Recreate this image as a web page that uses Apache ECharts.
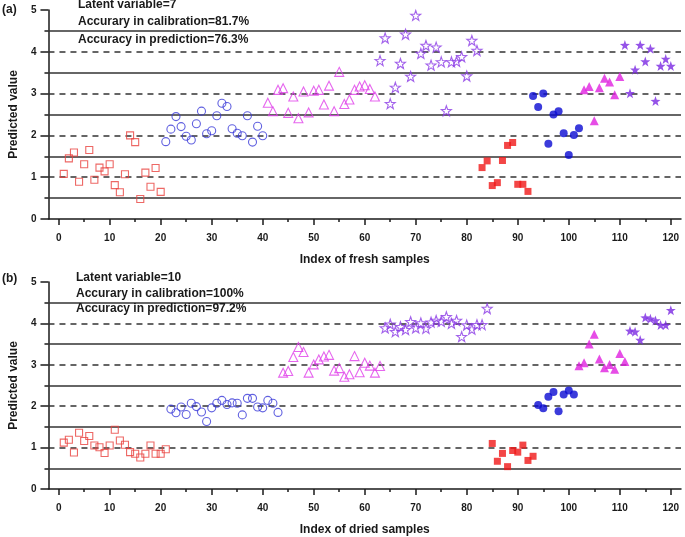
<!DOCTYPE html>
<html>
<head>
<meta charset="utf-8">
<script src="https://cdn.jsdelivr.net/npm/echarts@6/dist/echarts.min.js"></script>
<style>html,body{margin:0;padding:0;background:#fff;}#c{width:685px;height:537px;}</style>
</head>
<body>
<div id="c"></div>
<script>
// ---- Data: (a) fresh samples ----
const freshCalRedStart = 1;
const freshCalRed = [1.08,1.45,1.59,0.89,1.31,1.65,0.94,1.23,1.14,1.31,0.81,0.64,1.07,2.00,1.84,0.48,1.11,0.77,1.22,0.65];
const freshCalBlueStart = 21;
const freshCalBlue = [1.85,2.15,2.45,2.21,1.98,1.89,2.28,2.58,2.04,2.11,2.47,2.77,2.69,2.16,2.05,1.99,2.47,1.84,2.22,1.99];
const freshCalMagStart = 41;
const freshCalMag = [2.78,2.58,3.09,3.13,2.54,2.93,2.41,3.05,2.55,3.07,3.09,2.74,3.19,2.58,3.52,2.75,2.86,3.09,3.17,3.20,3.11,2.93];
const freshCalStarStart = 63;
const freshCalStar = [3.79,4.33,2.76,3.15,3.72,4.42,3.41,4.87,3.96,4.15,3.68,4.11,3.76,2.59,3.76,3.77,3.88,3.42,4.27,4.03];
const freshPredRedStart = 83;
const freshPredRed = [1.23,1.39,0.80,0.87,1.40,1.76,1.83,0.83,0.83,0.66];
const freshPredBlueStart = 93;
const freshPredBlue = [2.94,2.68,3.00,1.80,2.50,2.58,2.05,1.53,2.01,2.17];
const freshPredMagStart = 103;
const freshPredMag = [3.09,3.17,2.35,3.14,3.37,3.28,2.97,3.41];
const freshPredStarStart = 111;
const freshPredStar = [4.16,3.01,3.57,4.16,3.77,4.07,2.82,3.66,3.83,3.66];

// ---- Data: (b) dried samples ----
const driedCalRedStart = 1;
const driedCalRed = [1.12,1.19,0.88,1.36,1.16,1.28,1.05,1.01,0.87,1.05,1.43,1.17,1.07,0.89,0.85,0.76,0.85,1.05,0.85,0.85,0.96];
const driedCalBlueStart = 22;
const driedCalBlue = [1.93,1.84,1.98,1.80,2.07,1.99,1.86,1.63,1.96,2.07,2.14,2.04,2.08,2.07,1.79,2.19,2.19,1.98,1.96,2.14,2.07,1.85];
const driedCalMagStart = 44;
const driedCalMag = [2.81,2.85,3.19,3.43,3.31,2.81,3.01,3.13,3.20,3.24,2.86,2.92,2.71,2.77,3.21,2.82,3.05,2.98,2.81,2.97];
const driedCalStarStart = 64;
const driedCalStar = [3.89,3.98,3.80,3.92,3.85,4.04,3.89,4.01,3.88,4.03,4.07,4.05,4.16,4.00,4.07,3.68,3.96,3.86,3.97,3.97,4.36];
const driedPredRedStart = 85;
const driedPredRed = [1.10,0.67,0.86,0.54,0.93,0.89,1.06,0.69,0.79];
const driedPredBlueStart = 94;
const driedPredBlue = [2.03,1.95,2.23,2.34,1.88,2.28,2.38,2.28];
const driedPredMagStart = 102;
const driedPredMag = [2.98,3.05,3.50,3.74,3.14,2.93,3.01,2.89,3.27,3.08];
const driedPredStarStart = 112;
const driedPredStar = [3.82,3.80,3.60,4.14,4.11,4.07,3.96,3.96,4.32];

// ---- Axis ticks / labels ----
const xMajorTicks = [0,10,20,30,40,50,60,70,80,90,100,110,120];
const xMinorTicks = [5,15,25,35,45,55,65,75,85,95,105,115];
const solidLevels = [0.5,1.5,2.5,3.5,4.5];
const dashedLevels = [1,2,3,4];

const panelATexts = ['Latent variable=7','Accurary in calibration=81.7%','Accuracy in prediction=76.3%'];
const panelBTexts = ['Latent variable=10','Accurary in calibration=100%','Accuracy in prediction=97.2%'];

// ---- Styling ----
const FONT = 'Liberation Sans, Arial, sans-serif';
const AX = '#1a1a1a';
const STAR = 'path://M0,-10 L2.35,-3.24 L9.51,-3.09 L3.8,1.24 L5.88,8.09 L0,4 L-5.88,8.09 L-3.8,1.24 L-9.51,-3.09 L-2.35,-3.24 Z';

function pts(start, vals){ return vals.map((v,i)=>[start+i, v]); }

function hollow(name, data, symbol, size, color, xi, yi){
  return {type:'scatter', name, data, symbol, symbolSize:size, xAxisIndex:xi, yAxisIndex:yi,
    itemStyle:{color:'rgba(0,0,0,0)', borderColor:color, borderWidth:1.1}, silent:true, z:5};
}
function filled(name, data, symbol, size, color, xi, yi){
  return {type:'scatter', name, data, symbol, symbolSize:size, xAxisIndex:xi, yAxisIndex:yi,
    itemStyle:{color:color, borderWidth:0}, silent:true, z:5};
}
function refLines(xi, yi){
  const d = [];
  solidLevels.forEach(v=>d.push({yAxis:v, lineStyle:{type:'solid', color:'#333', width:1.5}}));
  dashedLevels.forEach(v=>d.push({yAxis:v, lineStyle:{type:[6,5], color:'#333', width:1.5}}));
  return {type:'scatter', data:[], xAxisIndex:xi, yAxisIndex:yi, silent:true, z:2,
    markLine:{silent:true, symbol:['none','none'], label:{show:false}, data:d, animation:false}};
}

function mainX(grid, name){
  return {type:'value', gridIndex:grid, min:-2, max:122, position:'bottom',
    name, nameLocation:'middle', nameGap:35,
    nameTextStyle:{fontFamily:FONT, fontWeight:'bold', fontSize:12, color:AX},
    axisLine:{show:true, onZero:false, lineStyle:{color:AX, width:1.5}},
    axisTick:{show:true, customValues:xMajorTicks, length:6, lineStyle:{color:AX, width:1.5}},
    axisLabel:{show:true, customValues:xMajorTicks, margin:14, fontFamily:FONT, fontWeight:'bold', fontSize:10, color:AX},
    splitLine:{show:false}};
}
function minorX(grid){
  return {type:'value', gridIndex:grid, min:-2, max:122, position:'bottom', offset:0,
    axisLine:{show:false},
    axisTick:{show:true, customValues:xMinorTicks, length:3, lineStyle:{color:AX, width:1.5}},
    axisLabel:{show:false}, splitLine:{show:false}};
}
function mainY(grid){
  return {type:'value', gridIndex:grid, min:0, max:5, interval:1,
    name:'Predicted value', nameLocation:'middle', nameGap:27,
    nameTextStyle:{fontFamily:FONT, fontWeight:'bold', fontSize:12, color:AX},
    axisLine:{show:true, onZero:false, lineStyle:{color:AX, width:1.5}},
    axisTick:{show:true, length:8, lineStyle:{color:AX, width:1.5}},
    minorTick:{show:true, splitNumber:2, length:4, lineStyle:{color:AX, width:1.5}},
    axisLabel:{margin:12, fontFamily:FONT, fontWeight:'bold', fontSize:10, color:AX},
    splitLine:{show:false}, minorSplitLine:{show:false}};
}

const C = {
  redH:'#e8423e', redF:'#f01818',
  blueH:'#3a3ad8', blueF:'#0a0ad2',
  magH:'#e040ea', magF:'#e020e0',
  starH:'#8c3ce6', starF:'#7a28e2'
};

function panelSeries(xi, yi, d){
  return [
    refLines(xi, yi),
    hollow('calRed', d[0], 'rect', 7, C.redH, xi, yi),
    hollow('calBlue', d[1], 'circle', 8, C.blueH, xi, yi),
    hollow('calMag', d[2], 'triangle', 9, C.magH, xi, yi),
    hollow('calStar', d[3], STAR, 10, C.starH, xi, yi),
    filled('predRed', d[4], 'rect', 7, C.redF, xi, yi),
    filled('predBlue', d[5], 'circle', 8, C.blueF, xi, yi),
    filled('predMag', d[6], 'triangle', 9, C.magF, xi, yi),
    filled('predStar', d[7], STAR, 10, C.starF, xi, yi)
  ];
}

const seriesA = panelSeries(0, 0, [
  pts(freshCalRedStart, freshCalRed), pts(freshCalBlueStart, freshCalBlue),
  pts(freshCalMagStart, freshCalMag), pts(freshCalStarStart, freshCalStar),
  pts(freshPredRedStart, freshPredRed), pts(freshPredBlueStart, freshPredBlue),
  pts(freshPredMagStart, freshPredMag), pts(freshPredStarStart, freshPredStar)
]);
const seriesB = panelSeries(2, 1, [
  pts(driedCalRedStart, driedCalRed), pts(driedCalBlueStart, driedCalBlue),
  pts(driedCalMagStart, driedCalMag), pts(driedCalStarStart, driedCalStar),
  pts(driedPredRedStart, driedPredRed), pts(driedPredBlueStart, driedPredBlue),
  pts(driedPredMagStart, driedPredMag), pts(driedPredStarStart, driedPredStar)
]);

function textEl(t, x, y){
  return {type:'text', left:x, top:y, silent:true, z:10,
    style:{text:t, font:'bold 12px ' + FONT, fill:AX}};
}

const chart = echarts.init(document.getElementById('c'), null, {renderer:'canvas'});
chart.setOption({
  animation:false,
  backgroundColor:'#fff',
  grid:[
    {left:46, top:10, width:635, height:209},
    {left:46, top:282, width:635, height:209}
  ],
  xAxis:[ mainX(0,'Index of fresh samples'), minorX(0), mainX(1,'Index of dried samples'), minorX(1) ],
  yAxis:[ mainY(0), mainY(1) ],
  series: seriesA.concat(seriesB),
  graphic:[
    textEl('(a)', 2, 4),
    textEl(panelATexts[0], 78, -1),
    textEl(panelATexts[1], 78, 16),
    textEl(panelATexts[2], 78, 34),
    textEl('(b)', 2, 273),
    textEl(panelBTexts[0], 76, 272),
    textEl(panelBTexts[1], 76, 288),
    textEl(panelBTexts[2], 76, 303)
  ]
});
</script>
</body>
</html>
